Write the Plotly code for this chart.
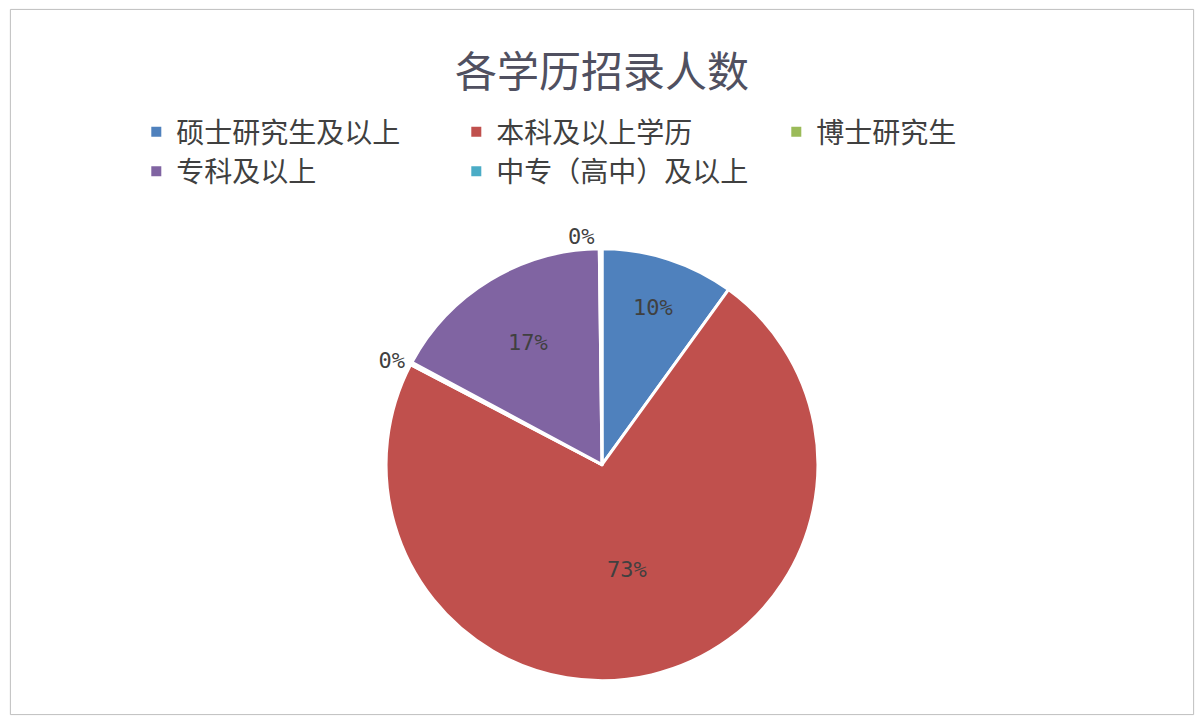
import plotly.graph_objects as go

labels = ['硕士研究生及以上', '本科及以上学历', '博士研究生', '专科及以上', '中专（高中）及以上']
values = [10, 73, 0.2, 17, 0.2]
colors = ['#4F81BD', '#C0504D', '#9BBB59', '#8064A2', '#4BACC6']
text_pos = ['inside', 'inside', 'outside', 'inside', 'outside']

fig = go.Figure(go.Pie(
    labels=labels, values=values, sort=False, direction='clockwise', rotation=0,
    marker=dict(colors=colors, line=dict(color='white', width=3)),
    texttemplate='%{percent:.0%}', textposition=text_pos,
    insidetextorientation='horizontal',
    textfont=dict(size=22, color='#404040', family='DejaVu Sans Mono'),
    domain=dict(x=[0.315, 0.685], y=[0.05, 0.66]),
))

fig.update_layout(
    margin=dict(l=0, r=0, t=0, b=0),
    paper_bgcolor='white',
    font=dict(family='Noto Sans CJK SC', color='#404040'),
    title=dict(text='各学历招录人数', x=0.5, y=0.93, xanchor='center',
               font=dict(size=42, color='#505060')),
    legend=dict(orientation='h', x=0.108, y=0.86, xanchor='left', yanchor='top',
                bgcolor='rgba(0,0,0,0)',
                font=dict(size=28, color='#404040'),
                entrywidth=275, entrywidthmode='pixels', itemsizing='constant'),
    shapes=[dict(type='rect', xref='paper', yref='paper', x0=0.002, y0=0.002,
                 x1=0.998, y1=0.998, line=dict(color='#BFBFBF', width=1))],
)

fig.write_html("out.html")
